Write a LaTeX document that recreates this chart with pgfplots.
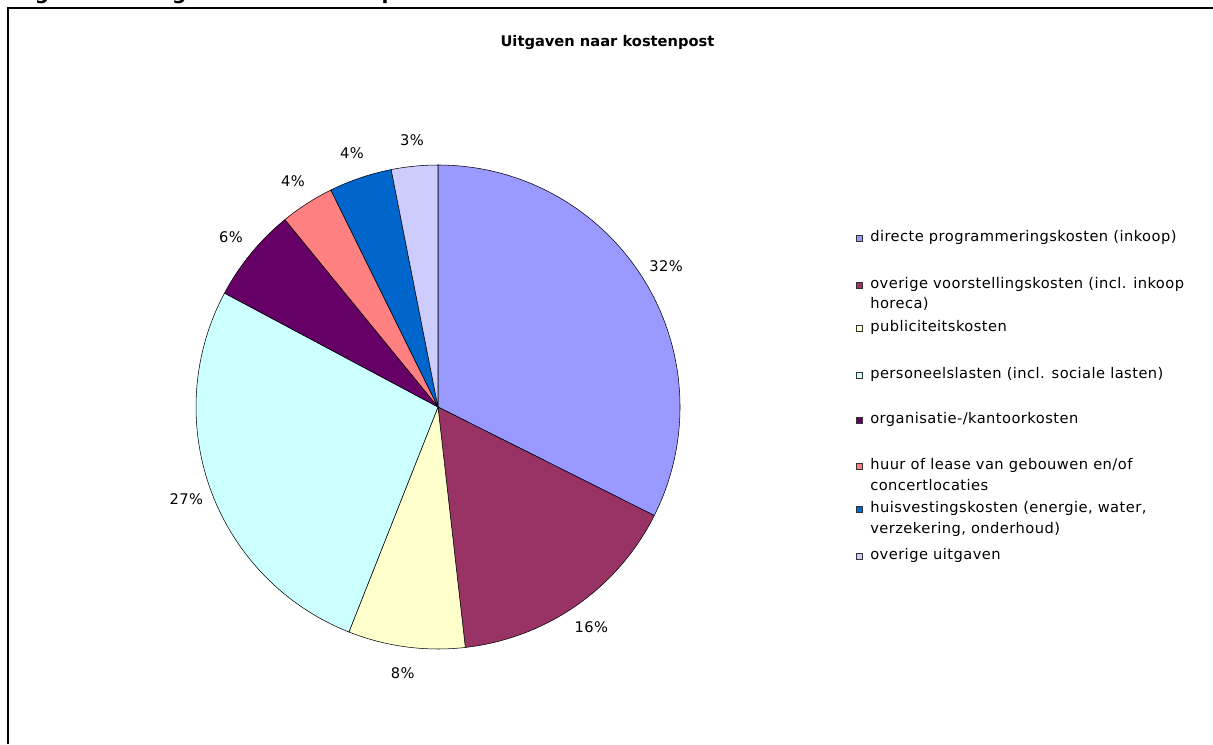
\documentclass[border=0pt]{standalone}
\usepackage{pgfplots}
\pgfplotsset{compat=1.18}
\usepackage{pgfplotstable}
\usepackage{fontspec}
\setmainfont{DejaVu Sans}
\newfontfamily\spaced[LetterSpace=3]{DejaVu Sans}
\definecolor{c0}{HTML}{9999FF}
\definecolor{c1}{HTML}{993366}
\definecolor{c2}{HTML}{FFFFCC}
\definecolor{c3}{HTML}{CCFFFF}
\definecolor{c4}{HTML}{660066}
\definecolor{c5}{HTML}{FF8080}
\definecolor{c6}{HTML}{0066CC}
\definecolor{c7}{HTML}{CCCCFF}
\pgfplotstableread{
value
32.4
15.8
7.8
26.8
6.3
3.6
4.2
3.1
}\piedata
\begin{document}
\def\Cum{0}%
\pgfplotsforeachungrouped \i in {0,...,7}{%
 \pgfplotstablegetelem{\i}{value}\of\piedata
 \let\Vv\pgfplotsretval
 \pgfmathsetmacro\Sa{90-3.6*\Cum}%
 \pgfmathsetmacro\Nc{\Cum+\Vv}%
 \pgfmathsetmacro\Ea{90-3.6*\Nc}%
 \pgfmathsetmacro\Ma{(\Sa+\Ea)/2}%
 \pgfmathtruncatemacro\Rl{round(\Vv)}%
 \expandafter\xdef\csname ps\i\endcsname{\Sa}%
 \expandafter\xdef\csname pe\i\endcsname{\Ea}%
 \expandafter\xdef\csname pm\i\endcsname{\Ma}%
 \expandafter\xdef\csname pl\i\endcsname{\Rl}%
 \xdef\Cum{\Nc}%
}%
\begin{tikzpicture}[lab/.style={font=\spaced\fontsize{11}{13}\selectfont, inner sep=0pt}]
\begin{axis}[
  at={(0,0)}, anchor=south west,
  width=909.75pt, height=558pt, scale only axis,
  xmin=0, xmax=1213, ymin=0, ymax=744,
  hide axis, clip=false]
\coordinate (SW) at (axis cs:0,0);
\coordinate (NE) at (axis cs:1213,744);
% frame
\draw[line width=1.5pt] (axis cs:7.5,0) -- (axis cs:7.5,736) -- (axis cs:1213,736);
\node[anchor=base west, font=\bfseries\fontsize{15}{17}\selectfont, inner sep=0pt] at (axis cs:14,744.5) {Figuur 11: Uitgaven naar kostenpost};
% title
\node[inner sep=0pt, font=\bfseries\fontsize{11}{13}\selectfont] at (axis cs:607.5,701) {Uitgaven naar kostenpost};
% pie
\pgfplotsinvokeforeach{0,...,7}{
  \draw[fill=c#1, draw=black, line width=0.4pt] (axis cs:438,337) -- (axis cs:{438+242*cos(\csname ps#1\endcsname)},{337+242*sin(\csname ps#1\endcsname)}) arc[start angle=\csname ps#1\endcsname, end angle=\csname pe#1\endcsname, radius=181.5pt] -- cycle;
  \node[lab] at (axis cs:{438+268*cos(\csname pm#1\endcsname)},{337+268*sin(\csname pm#1\endcsname)}) {\csname pl#1\endcsname\%};
}
% legend
\def\mk#1#2{\draw[fill=#1, draw=black!80, line width=0.5pt] (axis cs:856,#2-3) rectangle (axis cs:862,#2+3);}
\mk{c0}{506}\node[lab, anchor=mid west] at (axis cs:870,506) {directe programmeringskosten (inkoop)};
\mk{c1}{459}\node[lab, anchor=mid west] at (axis cs:870,459) {overige voorstellingskosten (incl. inkoop};
\node[lab, anchor=mid west] at (axis cs:870,439) {horeca)};
\mk{c2}{416}\node[lab, anchor=mid west] at (axis cs:870,416) {publiciteitskosten};
\mk{c3}{369}\node[lab, anchor=mid west] at (axis cs:870,369) {personeelslasten (incl. sociale lasten)};
\mk{c4}{324}\node[lab, anchor=mid west] at (axis cs:870,324) {organisatie-/kantoorkosten};
\mk{c5}{278}\node[lab, anchor=mid west] at (axis cs:870,278) {huur of lease van gebouwen en/of};
\node[lab, anchor=mid west] at (axis cs:870,257) {concertlocaties};
\mk{c6}{235}\node[lab, anchor=mid west] at (axis cs:870,235) {huisvestingskosten (energie, water,};
\node[lab, anchor=mid west] at (axis cs:870,214) {verzekering, onderhoud)};
\mk{c7}{188}\node[lab, anchor=mid west] at (axis cs:870,188) {overige uitgaven};
\end{axis}
\pgfresetboundingbox
\path[use as bounding box] (SW) rectangle (NE);
\end{tikzpicture}
\end{document}
